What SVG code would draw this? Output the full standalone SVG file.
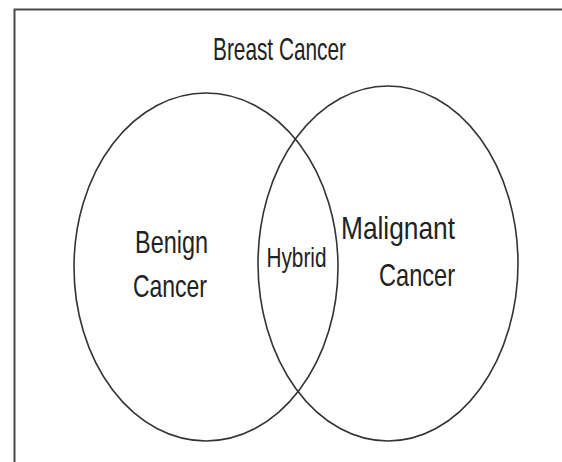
<svg xmlns="http://www.w3.org/2000/svg" width="562" height="462" viewBox="0 0 562 462">
  <style>
    .frame { fill: none; stroke: #4a4a4a; stroke-width: 2; }
    .set { fill: none; stroke: #333333; stroke-width: 1.6; }
    .lbl { font-family: "Liberation Sans", Arial, sans-serif; fill: #222222; }
    .big { font-size: 30.5px; }
    .small { font-size: 27px; }
  </style>
  <rect width="562" height="462" fill="#ffffff"/>
  <g id="frame">
    <polyline class="frame" points="14.5,462 14.5,9.5 562,9.5"/>
  </g>
  <g id="title">
    <text class="lbl big" x="213" y="59.5" textLength="133" lengthAdjust="spacingAndGlyphs">Breast Cancer</text>
  </g>
  <g id="benign">
    <ellipse class="set" cx="206" cy="267" rx="132" ry="174"/>
    <text class="lbl big" x="135" y="252.5" textLength="73" lengthAdjust="spacingAndGlyphs">Benign</text>
    <text class="lbl big" x="133" y="296.5" textLength="74" lengthAdjust="spacingAndGlyphs">Cancer</text>
  </g>
  <g id="malignant">
    <ellipse class="set" cx="388" cy="263.5" rx="130" ry="177.5"/>
    <text class="lbl big" x="341" y="238.5" textLength="114" lengthAdjust="spacingAndGlyphs">Malignant</text>
    <text class="lbl big" x="379" y="286" textLength="76" lengthAdjust="spacingAndGlyphs">Cancer</text>
  </g>
  <g id="hybrid">
    <text class="lbl small" x="266.5" y="266.5" textLength="60" lengthAdjust="spacingAndGlyphs">Hybrid</text>
  </g>
</svg>
